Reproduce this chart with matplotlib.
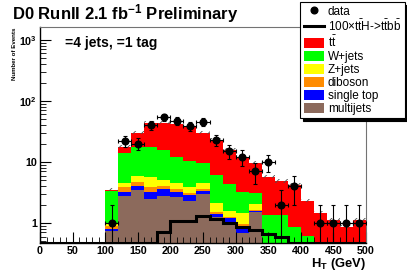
import numpy as np
import matplotlib
matplotlib.use("Agg")
import matplotlib.pyplot as plt
from matplotlib.patches import Patch
from matplotlib.lines import Line2D
from matplotlib.ticker import LogLocator, MultipleLocator, FixedFormatter, FixedLocator

plt.rcParams['font.family'] = ['Liberation Sans', 'DejaVu Sans']
plt.rcParams['mathtext.fontset'] = 'custom'
plt.rcParams['mathtext.rm'] = 'Liberation Sans'
plt.rcParams['mathtext.it'] = 'Liberation Sans'
plt.rcParams['mathtext.bf'] = 'Liberation Sans:bold'
plt.rcParams['hatch.linewidth'] = 0.6

# H_T bins, 20 GeV wide, 0..500
edges = np.arange(0, 520, 20)
centers = edges[:-1] + 10

# event counts per bin (bins 0-100 empty)
pad = [0, 0, 0, 0, 0]
data = np.array(pad + [1, 22, 20, 40, 54, 47, 39, 45, 23, 15, 12, 7, 10, 2, 4, 0, 1, 1, 1, 1], float)
multijets = np.array(pad + [0.75, 2.77, 3.47, 2.45, 2.77, 2.63, 2.32, 2.99, 1.25, 1.05, 0.69, 1.53,
                            0, 0, 0, 0, 0, 0, 0, 0])
single_top = np.array(pad + [0.06, 0.49, 0.63, 0.81, 0.80, 0.63, 0.56, 0.40, 0.17, 0.14, 0.16, 0.07,
                             0, 0, 0, 0, 0, 0, 0, 0])
diboson = np.array(pad + [0.09, 0.59, 0.65, 0.69, 0.48, 0.31, 0.26, 0.21, 0.10, 0.08, 0.11, 0.02,
                          0, 0, 0, 0, 0, 0, 0, 0])
zjets = np.array(pad + [0.09, 0.62, 1.15, 1.65, 1.02, 1.03, 0.81, 0.87, 0.58, 0.30, 0.48, 0.43,
                        0, 0, 0, 0, 0, 0, 0, 0])
wjets = np.array(pad + [2.31, 9.4, 11.9, 11.8, 10.6, 7.6, 6.45, 5.0, 4.0, 2.73, 1.82, 1.05,
                        1.35, 1.35, 0.87, 0.61, 0, 0, 0, 0])
ttbar = np.array(pad + [0.2, 3.9, 11.7, 25.6, 28.3, 29.8, 26.6, 20.0, 16.8, 11.4, 8.9, 6.4,
                        4.35, 3.45, 3.33, 1.69, 1.45, 1.12, 0.87, 1.12])
signal = np.array(pad + [0, 0, 0, 0, 0.71, 1.08, 1.06, 1.3, 1.15, 1.0, 0.85, 0.78,
                         0.67, 0.6, 0, 0, 0, 0, 0, 0])

samples = [multijets, single_top, diboson, zjets, wjets, ttbar]
names = ['multijets', 'single top', 'diboson', 'Z+jets', 'W+jets', r'$t\bar{t}$']
colors = ['#8c6a5c', '#0000ff', '#ff8c00', '#ffff00', '#00ff00', '#ff0000']

ymin, ymax = 0.47, 1630

fig = plt.figure(figsize=(4.07, 2.71), dpi=100)
ax = fig.add_axes([40/407, 1 - 243/271, 326/407, 216/271])
ax.set_yscale('log')

bottom = np.zeros(len(centers))
for vals, c in zip(samples, colors):
    ax.bar(edges[:-1], vals, width=20, bottom=bottom, align='edge', color=c, linewidth=0)
    bottom = bottom + vals
total = bottom

# mc uncertainty band
m = total > 0
ax.bar(edges[:-1][m], total[m] * 0.12, width=20, bottom=total[m] * 0.96, align='edge',
       fill=False, hatch='////', edgecolor='0.3', linewidth=0)

ax.stairs(np.clip(signal, ymin, None), edges, color='k', lw=2.2, baseline=None)

d = data > 0
ax.errorbar(centers[d], data[d], xerr=10, yerr=np.sqrt(data[d]), fmt='o', color='k',
            ms=4.8, elinewidth=0.8, capsize=1.5, capthick=0.8, zorder=5)

ax.set_xlim(0, 500)
ax.set_ylim(ymin, ymax)

ax.xaxis.set_major_locator(MultipleLocator(50))
ax.xaxis.set_minor_locator(MultipleLocator(10))
ax.yaxis.set_major_locator(FixedLocator([1, 10, 100, 1000]))
ax.yaxis.set_major_formatter(FixedFormatter(['1', '10', r'$\mathbf{10^2}$', r'$\mathbf{10^3}$']))
ax.yaxis.set_minor_locator(LogLocator(base=10, subs=np.arange(2, 10)))
ax.yaxis.set_minor_formatter(plt.NullFormatter())
ax.tick_params(which='both', direction='in', colors='k', labelsize=7.7)
ax.tick_params(which='major', length=8, width=0.8, pad=2)
ax.tick_params(which='minor', length=4, width=0.6)
for lab in ax.get_xticklabels() + ax.get_yticklabels():
    lab.set_fontweight('bold')

ax.spines['left'].set_linewidth(1.0)
ax.spines['bottom'].set_linewidth(1.0)
ax.spines['top'].set_color('0.45')
ax.spines['right'].set_color('0.45')
ax.spines['top'].set_linewidth(0.8)
ax.spines['right'].set_linewidth(0.8)

fig.text(12/407, 1 - 14/271, r'D0 RunII 2.1 fb$^{\mathbf{-1}}$ Preliminary', fontsize=12,
         fontweight='bold', va='center', ha='left')
fig.text(65/407, 1 - 43/271, '=4 jets, =1 tag', fontsize=10,
         fontweight='bold', va='center', ha='left')
fig.text(15/407, 1 - 28/271, 'Number of Events', rotation=90, fontsize=4.4,
         fontweight='bold', va='top', ha='center')
fig.text(366/407, 1 - 267/271, r'$\mathbf{H_T}$ (GeV)', fontsize=9.4, fontweight='bold',
         va='baseline', ha='right')

handles = [Line2D([], [], marker='o', color='k', ls='none', ms=4.8),
           Line2D([], [], color='k', lw=2.2)]
labels = ['data', r'100$\times t\bar{t}$H->$t\bar{t}b\bar{b}$']
for n, c in zip(names[::-1], colors[::-1]):
    handles.append(Patch(facecolor=c, edgecolor='none'))
    labels.append(n)
leg = fig.legend(handles, labels, loc='upper left', bbox_to_anchor=(300/407, 1 - 2/271),
                 borderaxespad=0, fontsize=8.5, frameon=True, fancybox=False,
                 edgecolor='k', framealpha=1, labelspacing=0.08, handlelength=1.7,
                 handleheight=0.9, handletextpad=0.35, borderpad=0.3,
                 shadow={'color': 'k', 'alpha': 1, 'ox': 2, 'oy': -2})
leg.get_frame().set_linewidth(0.8)

fig.savefig('out.png', dpi=100)
